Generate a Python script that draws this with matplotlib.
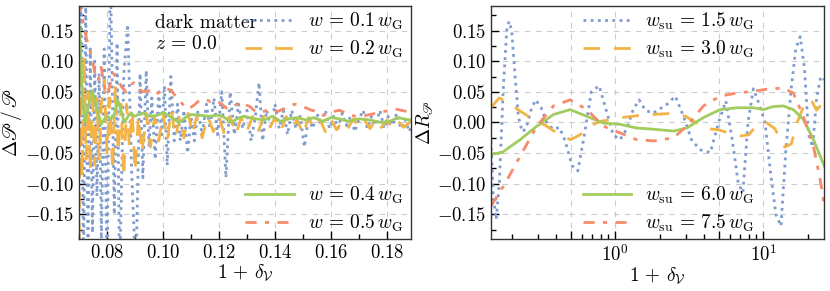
import matplotlib
matplotlib.use("Agg")
import matplotlib.pyplot as plt
from matplotlib.ticker import MultipleLocator, FixedLocator, FuncFormatter, LogLocator, NullFormatter

plt.rcParams['mathtext.fontset'] = 'cm'
plt.rcParams['font.family'] = 'serif'
plt.rcParams['font.serif'] = ['cmr10', 'DejaVu Serif']
plt.rcParams['axes.formatter.use_mathtext'] = True
plt.rcParams['font.size'] = 13.5

# ---- left panel: Delta P / P vs 1 + delta_V (linear) ----
x_l01 = [.0700, .0708, .0716, .0724, .0732, .0740, .0748, .0756, .0764, .0772, .0780, .0790,
         .0800, .0812, .0826, .0836, .0845, .0860, .0874, .0888, .0903, .0918, .0928, .0940,
         .0950, .0960, .0972, .0985, .0995, .1005, .1015, .1028, .1040, .1052, .1062, .1075,
         .1088, .1100, .1112, .1125, .1140, .1155, .1168, .1182, .1195, .1210, .1225, .1240,
         .1255, .1270, .1285, .1300, .1315, .1330, .1343, .1356, .1370, .1385, .1400, .1415,
         .1430, .1445, .1460, .1475, .1490, .1505, .1520, .1535, .1550, .1565, .1580, .1595,
         .1610, .1625, .1640, .1655, .1670, .1685, .1700, .1715, .1730, .1745, .1760, .1775,
         .1790, .1805, .1820, .1835, .1850, .1865, .1880, .1890]
y_l01 = [.00, .25, -.25, .20, -.22, .12, -.18, .10, -.12, .08, -.19, .12,
         -.25, .25, -.15, .13, -.25, .08, .16, -.08, -.25, .08, -.09, .085,
         -.04, .04, -.06, .05, -.02, .06, -.07, .075, -.03, .03, -.03, .02,
         -.05, .01, -.03, .02, -.02, .03, -.01, .04, -.02, .05, -.09, .05,
         -.02, .03, -.01, .02, -.03, .01, .065, -.03, .02, -.01, .03, -.01,
         .02, -.02, .02, -.01, .01, -.04, .01, -.01, .015, -.005, .02, -.01,
         .01, -.01, .015, -.005, .01, -.015, .005, .02, -.01, .01, -.005, .02,
         -.01, .01, -.005, .015, -.01, .005, -.015, .0]

x_l02 = [.0700, .0705, .0710, .0718, .0725, .0732, .0740, .0748, .0756, .0764, .0772, .0780,
         .0790, .0800, .0810, .0820, .0830, .0840, .0850, .0860, .0870, .0880, .0890, .0900,
         .0912, .0925, .0940, .0955, .0970, .0985, .1000, .1015, .1030, .1045, .1060, .1075,
         .1090, .1105, .1120, .1140, .1160, .1180, .1200, .1220, .1240, .1260, .1280, .1300,
         .1320, .1340, .1360, .1380, .1400, .1420, .1440, .1460, .1480, .1500, .1520, .1540,
         .1560, .1580, .1600, .1620, .1640, .1660, .1680, .1700, .1720, .1740, .1760, .1780,
         .1800, .1820, .1840, .1860, .1890]
y_l02 = [-.190, .100, -.090, .110, -.060, .050, -.080, .060, -.070, .040, -.060, .030,
         .070, -.050, .040, -.080, .060, -.050, .030, -.090, .030, -.040, .020, -.080,
         .010, -.050, .015, -.040, .010, -.030, .015, -.030, .020, -.025, .010, -.025,
         .015, -.020, .010, -.025, .010, -.015, .010, -.020, .010, -.020, .008, -.015,
         .010, -.015, .010, -.010, .008, -.015, .010, -.010, .005, -.020, .008, -.010,
         .005, -.015, .005, -.012, .002, -.010, .006, -.008, .004, -.010, .006, -.008,
         .004, -.010, .002, -.008, .004]

x_l04 = [.0700, .0705, .0712, .0722, .0735, .0747, .0760, .0779, .0790, .0802, .0815, .0825,
         .0838, .0850, .0862, .0875, .0886, .0897, .0907, .0927, .0945, .0957, .0980, .1004,
         .1030, .1057, .1080, .1100, .1130, .1164, .1200, .1220, .1243, .1265, .1285, .1310,
         .1330, .1360, .1390, .1420, .1450, .1480, .1510, .1540, .1570, .1600, .1630, .1660,
         .1700, .1740, .1780, .1810, .1840, .1870, .1890]
y_l04 = [.160, .120, .040, .000, .030, .052, .030, -.003, .005, .010, .006, .012,
         .037, .020, .000, .010, .016, .010, .012, .015, .012, .010, .012, .016,
         .008, .000, .008, .013, .012, .010, .012, .008, .000, .006, .010, .008,
         .006, .004, .010, .002, .006, .008, .004, .008, .002, .008, .006, .002,
         .006, .004, .000, .002, .008, .005, .004]

x_l05 = [.0700, .0710, .0720, .0728, .0738, .0748, .0757, .0768, .0779, .0790, .0800, .0810,
         .0822, .0838, .0852, .0868, .0882, .0896, .0912, .0930, .0950, .0970, .0990, .1010,
         .1030, .1050, .1070, .1090, .1110, .1130, .1150, .1170, .1190, .1210, .1230, .1250,
         .1270, .1290, .1310, .1330, .1350, .1370, .1390, .1410, .1430, .1450, .1470, .1490,
         .1510, .1530, .1550, .1570, .1590, .1610, .1630, .1650, .1670, .1690, .1710, .1730,
         .1750, .1770, .1790, .1810, .1830, .1850, .1870, .1890]
y_l05 = [.200, .175, .150, .135, .120, .100, .080, .068, .090, .060, .045, .060,
         .080, .070, .058, .050, .060, .065, .055, .050, .052, .045, .050, .056,
         .052, .040, .030, .022, .028, .036, .038, .034, .036, .030, .022, .026,
         .032, .030, .026, .018, .016, .020, .022, .018, .022, .026, .030, .028,
         .024, .020, .018, .012, .014, .018, .020, .016, .012, .010, .010, .012,
         .014, .016, .018, .020, .022, .020, .018, .016]

# ---- right panel: Delta R_P vs 1 + delta_V (log) ----
x_r15 = [.145, .150, .157, .165, .175, .185, .192, .200, .210, .222, .235, .250, .270, .290,
         .315, .345, .380, .420, .460, .510, .560, .620, .690, .780, .870, .970, 1.08, 1.20,
         1.32, 1.45, 1.60, 1.80, 2.00, 2.25, 2.55, 2.90, 3.30, 3.80, 4.40, 5.00, 5.60, 6.20,
         6.80, 7.30, 7.90, 8.60, 9.40, 10.3, 11.2, 12.2, 13.2, 14.2, 15.4, 16.6, 17.8, 19.0,
         20.3, 21.6, 23.0, 24.5, 25.8]
y_r15 = [-.030, -.120, -.158, -.100, .050, .150, .165, .150, .080, .010, -.015, -.010, .020, .037,
         .025, .000, -.011, -.008, -.030, -.070, -.079, -.020, .050, .060, .020, -.020, -.028, -.010,
         .020, .037, .020, .015, .022, .030, .043, .010, -.030, -.045, -.049, .000, .035, -.030,
         -.100, -.114, .000, .055, .030, .000, -.080, -.150, -.169, -.050, .050, .120, .140, .090,
         -.020, -.040, .040, .075, .070]

x_r30 = [.145, .165, .19, .23, .28, .34, .42, .50, .58, .68, .80, .95, 1.1, 1.3, 1.5, 1.8, 2.1,
         2.5, 3.0, 3.5, 4.2, 5.0, 6.0, 7.0, 8.0, 9.0, 10.5, 12.0, 14.0, 15.5, 17.0, 19.0, 21.0,
         23.0, 25.8]
y_r30 = [.025, .040, .032, .018, .005, -.005, -.020, -.028, -.020, -.005, .002, .005, .008, .010,
         .012, .013, .014, .015, .010, .000, -.010, -.012, -.018, -.022, -.020, -.005, .000, -.010,
         -.040, -.035, .000, .030, .038, .020, .035]

x_r60 = [.145, .172, .228, .296, .383, .497, .644, .834, 1.08, 1.40, 1.82, 2.48, 3.05, 3.95,
         5.12, 6.64, 8.6, 10.05, 11.7, 13.7, 16.0, 18.7, 21.9, 25.9]
y_r60 = [-.052, -.049, -.028, -.006, .013, .021, .010, -.001, -.003, -.009, -.011, -.014, -.009,
         .008, .021, .024, .024, .021, .026, .027, .021, .005, -.028, -.071]

x_r75 = [.145, .176, .228, .296, .383, .497, .644, .834, 1.08, 1.40, 1.82, 2.48, 3.05, 3.95,
         5.12, 6.64, 8.6, 11.0, 13.7, 16.0, 18.7, 21.9, 24.3, 25.9]
y_r75 = [-.136, -.104, -.055, -.006, .027, .037, .021, -.006, -.017, -.028, -.030, -.025, -.006,
         .027, .043, .048, .051, .055, .056, .048, .010, -.039, -.093, -.136]

c_blue = '#7f9ccf'
c_orange = '#f3b347'
c_green = '#a2cc5e'
c_red = '#f78b6b'

LEG = dict(frameon=False, handlelength=2.5, fontsize=14, labelspacing=0.35,
           borderaxespad=0.2, handletextpad=0.7)


def style_axis(ax):
    ax.set_ylim(-0.19, 0.19)
    ax.yaxis.set_major_locator(MultipleLocator(0.05))
    ax.yaxis.set_minor_locator(MultipleLocator(0.025))
    ax.yaxis.set_major_formatter(FuncFormatter(lambda v, p: r'$%.2f$' % v))
    ax.tick_params(which='both', direction='in', top=False, right=False, labelsize=13.5)
    ax.tick_params(which='major', length=6, width=1)
    ax.tick_params(which='minor', length=3.5, width=1)
    ax.grid(True, which='major', color='#cccccc', linestyle=(0, (5, 5)), linewidth=0.8)
    for s in ax.spines.values():
        s.set_color('#333333')
        s.set_linewidth(1.0)
    ax.set_xlabel(r'$1\,+\,\delta_\mathcal{V}$', fontsize=14, labelpad=0)


def main():
    fig = plt.figure(figsize=(8.3, 2.91), dpi=100)
    ax1 = fig.add_axes([0.0952, 0.1787, 0.4, 0.8007])
    ax2 = fig.add_axes([0.5916, 0.1787, 0.4012, 0.8007])

    # left
    l1, = ax1.plot(x_l01, y_l01, color=c_blue, lw=2, linestyle=(0, (1, 1.6)), label=r'$w\,=\,0.1\,w_\mathrm{G}$')
    l2, = ax1.plot(x_l02, y_l02, color=c_orange, lw=2, linestyle=(0, (6, 5)), label=r'$w\,=\,0.2\,w_\mathrm{G}$')
    l4, = ax1.plot(x_l04, y_l04, color=c_green, lw=2, label=r'$w\,=\,0.4\,w_\mathrm{G}$')
    l5, = ax1.plot(x_l05, y_l05, color=c_red, lw=2, linestyle=(0, (4, 3, 1.5, 3)), label=r'$w\,=\,0.5\,w_\mathrm{G}$')
    ax1.set_xlim(0.07, 0.1886)
    ax1.xaxis.set_major_locator(MultipleLocator(0.02))
    ax1.xaxis.set_minor_locator(MultipleLocator(0.01))
    ax1.xaxis.set_major_formatter(FuncFormatter(lambda v, p: r'$%.2f$' % v))
    style_axis(ax1)
    ax1.set_ylabel(r'$\Delta\mathscr{P}\,/\,\mathscr{P}$', fontsize=14, labelpad=1)
    leg_a = ax1.legend(handles=[l1, l2], loc='upper right', bbox_to_anchor=(1.01, 1.03), **LEG)
    ax1.add_artist(leg_a)
    ax1.legend(handles=[l4, l5], loc='lower right', bbox_to_anchor=(1.01, -0.03), **LEG)
    ax1.text(0.228, 0.925, 'dark matter', transform=ax1.transAxes, fontsize=14, va='center')
    ax1.text(0.228, 0.835, r'$z\,=\,0.0$', transform=ax1.transAxes, fontsize=14, va='center')

    # right
    r1, = ax2.plot(x_r15, y_r15, color=c_blue, lw=2, linestyle=(0, (1, 1.6)), label=r'$w_\mathrm{su}\,=\,1.5\,w_\mathrm{G}$')
    r2, = ax2.plot(x_r30, y_r30, color=c_orange, lw=2, linestyle=(0, (6, 5)), label=r'$w_\mathrm{su}\,=\,3.0\,w_\mathrm{G}$')
    r3, = ax2.plot(x_r60, y_r60, color=c_green, lw=2, label=r'$w_\mathrm{su}\,=\,6.0\,w_\mathrm{G}$')
    r4, = ax2.plot(x_r75, y_r75, color=c_red, lw=2, linestyle=(0, (4, 3, 1.5, 3)), label=r'$w_\mathrm{su}\,=\,7.5\,w_\mathrm{G}$')
    ax2.set_xscale('log')
    ax2.set_xlim(0.145, 25.8)
    ax2.xaxis.set_major_locator(FixedLocator([0.5, 1, 5, 10]))
    ax2.xaxis.set_major_formatter(FuncFormatter(
        lambda v, p: {1: r'$10^{0}$', 10: r'$10^{1}$'}.get(int(round(v)) if v >= 1 else -1, '')))
    ax2.xaxis.set_minor_locator(LogLocator(base=10, subs=(2, 3, 4, 5, 6, 7, 8, 9)))
    ax2.xaxis.set_minor_formatter(NullFormatter())
    style_axis(ax2)
    ax2.set_ylabel(r'$\Delta R_\mathscr{P}$', fontsize=14, labelpad=1)
    leg_b = ax2.legend(handles=[r1, r2], loc='upper left', bbox_to_anchor=(0.24, 1.03), **LEG)
    ax2.add_artist(leg_b)
    ax2.legend(handles=[r3, r4], loc='lower left', bbox_to_anchor=(0.24, -0.03), **LEG)

    fig.savefig('out.png', dpi=100)


if __name__ == "__main__":
    main()
